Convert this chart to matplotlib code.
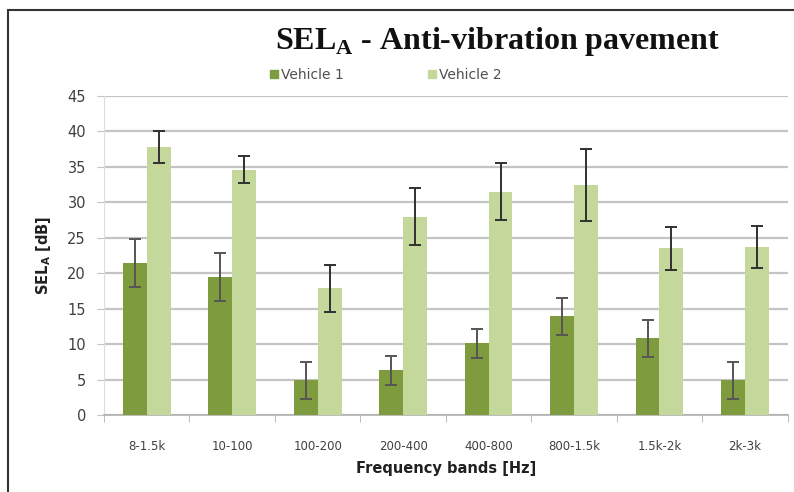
import matplotlib.pyplot as plt
import numpy as np
from matplotlib.patches import Rectangle
from matplotlib.lines import Line2D

bands = ["8-1.5k", "10-100", "100-200", "200-400", "400-800", "800-1.5k", "1.5k-2k", "2k-3k"]
vehicle1 = [21.4, 19.5, 4.9, 6.3, 10.1, 13.9, 10.8, 4.9]
vehicle1_err = [3.4, 3.4, 2.6, 2.0, 2.0, 2.6, 2.6, 2.6]
vehicle2 = [37.8, 34.6, 17.9, 28.0, 31.5, 32.4, 23.5, 23.7]
vehicle2_err = [2.2, 1.9, 3.3, 4.0, 4.0, 5.1, 3.0, 2.9]

dark = "#7e9c3e"
light = "#c4d89b"
text_col = "#404040"

fig = plt.figure(figsize=(7.94, 4.92), dpi=100)
ax = fig.add_axes([0.131, 0.1565, 0.861, 0.6484])

x = np.arange(len(bands))
w = 0.28
ax.bar(x - w / 2, vehicle1, w, color=dark, zorder=3)
ax.bar(x + w / 2, vehicle2, w, color=light, zorder=3)
ax.errorbar(x - w / 2, vehicle1, yerr=vehicle1_err, fmt="none", ecolor="#555555",
            elinewidth=1.4, capsize=4, capthick=1.4, zorder=4)
ax.errorbar(x + w / 2, vehicle2, yerr=vehicle2_err, fmt="none", ecolor="#303030",
            elinewidth=1.4, capsize=4, capthick=1.4, zorder=4)

ax.set_xlim(-0.5, len(bands) - 0.5)
ax.set_ylim(0, 45)
ax.set_yticks(np.arange(0, 46, 5))
ax.yaxis.grid(True, color="#c4c4c4", lw=1.6, zorder=0)
ax.set_xticks(x)
ax.set_xticklabels(bands)
ax.set_xticks(np.arange(-0.5, len(bands), 1), minor=True)
ax.tick_params(axis="x", which="major", length=0, pad=18, labelsize=8.5, labelcolor=text_col)
ax.tick_params(axis="x", which="minor", length=5, color="#b0b0b0")
ax.tick_params(axis="y", length=5, color="#c4c4c4", pad=8, labelsize=10.5, labelcolor=text_col)
for s in ["top", "right"]:
    ax.spines[s].set_visible(False)
ax.spines["left"].set_color("#dddddd")
ax.spines["bottom"].set_color("#b0b0b0")
ax.spines["bottom"].set_linewidth(1.2)

ax.set_xlabel("Frequency bands [Hz]", fontweight="bold", fontsize=10.5, color="#202020", labelpad=6)
ax.set_ylabel(r"SEL$_\mathregular{A}$ [dB]", fontweight="bold", fontsize=10.5, color="#202020", labelpad=10)

fig.text(0.627, 0.915, r"SEL$_\mathregular{A}$ - Anti-vibration pavement", ha="center", va="center",
         family="Liberation Serif", fontweight="bold", fontsize=23, color="#111111")

handles = [Line2D([], [], ls="none", marker="s", ms=6, color=dark),
           Line2D([], [], ls="none", marker="s", ms=6, color=light)]
fig.legend(handles, ["Vehicle 1", "Vehicle 2"], loc="center", bbox_to_anchor=(0.485, 0.848),
           ncol=2, frameon=False, fontsize=10, handletextpad=0.1, columnspacing=6,
           labelcolor="#505050", handlelength=0.8)

# outer frame
fig.add_artist(Rectangle((8 / 794, -0.1), 1.2, 1.1 - 10 / 492, transform=fig.transFigure,
                         fill=False, ec="#333333", lw=1.5))

fig.savefig("out.png", dpi=100)
